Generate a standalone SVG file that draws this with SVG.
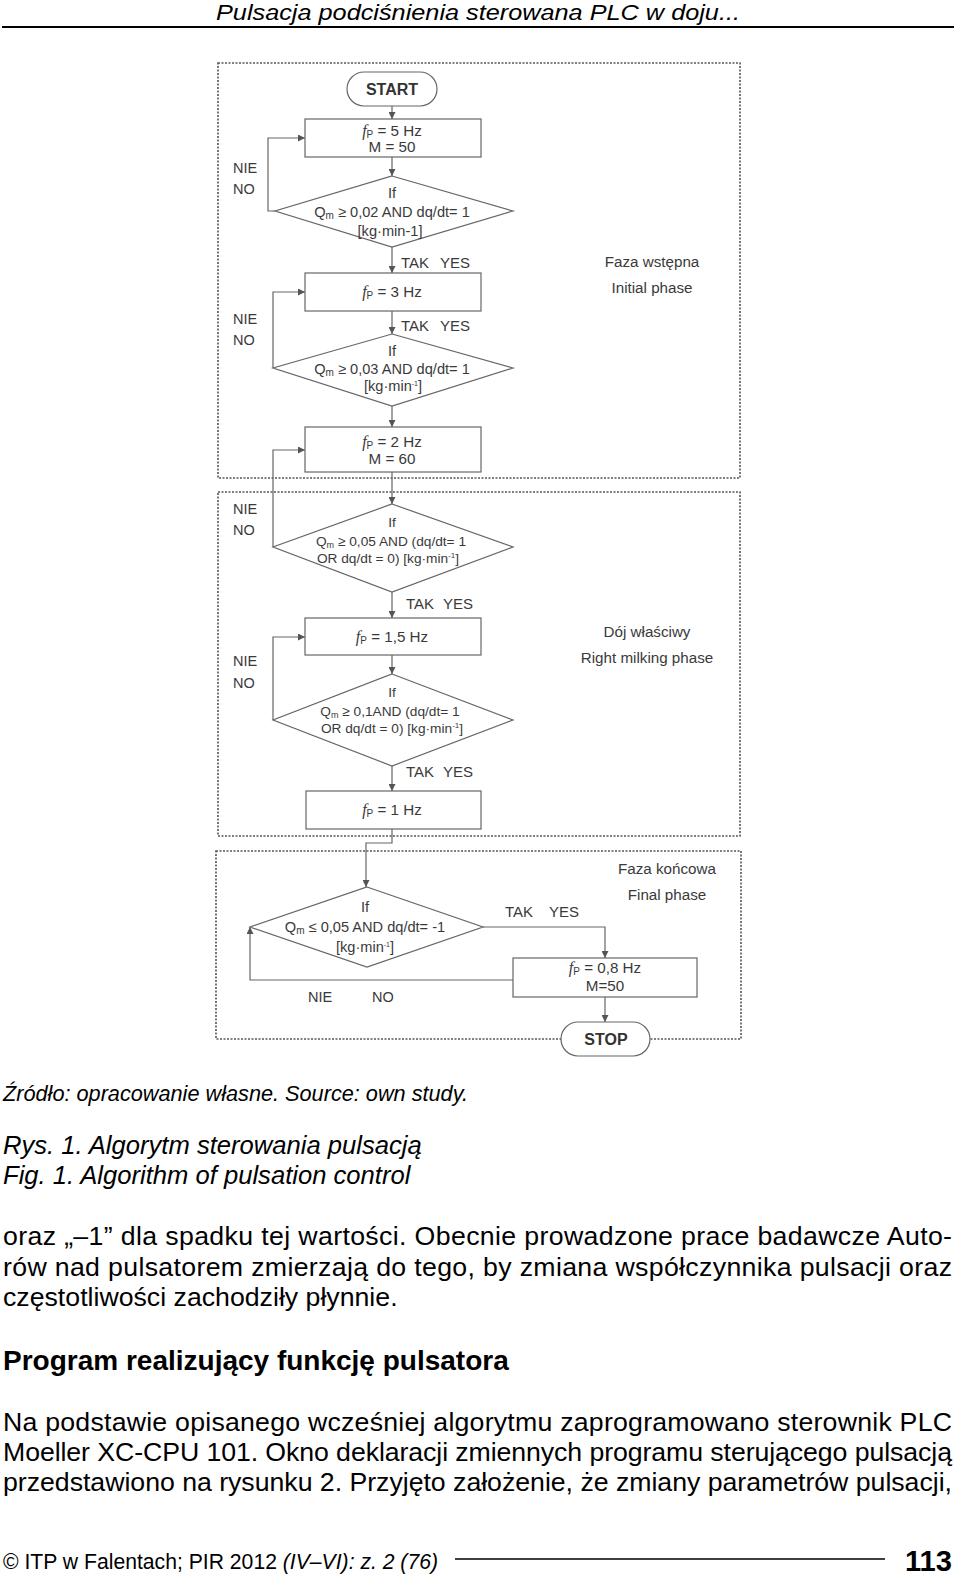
<svg xmlns="http://www.w3.org/2000/svg" width="960" height="1577" viewBox="0 0 960 1577">
<style>
.fl{fill:none;stroke:#666;stroke-width:1.2}
.nd{fill:#fff;stroke:#666;stroke-width:1.2}
.ph{fill:none;stroke:#555;stroke-width:1.6;stroke-dasharray:2 1.5}
.t{font-family:"Liberation Sans",Arial,sans-serif;fill:#3a3a3a;font-size:14.5px}
.y{font-family:"Liberation Sans",Arial,sans-serif;fill:#3a3a3a;font-size:15px}
.d{font-family:"Liberation Sans",Arial,sans-serif;fill:#3a3a3a;font-size:14.6px;text-anchor:middle}
.e{font-family:"Liberation Sans",Arial,sans-serif;fill:#3a3a3a;font-size:13.7px;text-anchor:middle}
.b{font-family:"Liberation Sans",Arial,sans-serif;fill:#3a3a3a;font-size:15.2px;text-anchor:middle}
.s{font-family:"Liberation Sans",Arial,sans-serif;fill:#333;font-size:16px;font-weight:bold;text-anchor:middle}
.f{font-style:italic;font-family:"Liberation Serif","Times New Roman",serif}
.x{font-family:"Liberation Sans",Arial,sans-serif;fill:#000}
</style>
<defs>
<marker id="ar" viewBox="0 0 10 10" refX="10" refY="5" markerWidth="7" markerHeight="7" orient="auto" markerUnits="userSpaceOnUse">
<path d="M0,0 L10,5 L0,10 z" fill="#555"/>
</marker>
</defs>
<rect width="960" height="1577" fill="#fff"/>

<!-- header -->
<text class="x" x="478" y="20" font-size="22" font-style="italic" text-anchor="middle" textLength="524" lengthAdjust="spacingAndGlyphs">Pulsacja podciśnienia sterowana PLC w doju...</text>
<line x1="2" y1="27" x2="954" y2="27" stroke="#000" stroke-width="2"/>

<!-- phase frames -->
<g id="phases">
<rect class="ph" x="218" y="63" width="522" height="415"/>
<rect class="ph" x="218" y="492" width="522" height="344"/>
<rect class="ph" x="216" y="851" width="525" height="188"/>
<text class="b" x="652" y="267">Faza wstępna</text>
<text class="b" x="652" y="293">Initial phase</text>
<text class="b" x="647" y="637">Dój właściwy</text>
<text class="b" x="647" y="663">Right milking phase</text>
<text class="b" x="667" y="874">Faza końcowa</text>
<text class="b" x="667" y="900">Final phase</text>
</g>

<!-- connectors -->
<g id="connectors">
<path class="fl" d="M392,106 V119" marker-end="url(#ar)"/>
<path class="fl" d="M392,157 V176" marker-end="url(#ar)"/>
<path class="fl" d="M275,211 H268 V138 H305" marker-end="url(#ar)"/>
<path class="fl" d="M392,247 V273" marker-end="url(#ar)"/>
<path class="fl" d="M392,311 V334" marker-end="url(#ar)"/>
<path class="fl" d="M273,368 V292 H305" marker-end="url(#ar)"/>
<path class="fl" d="M392,406 V427" marker-end="url(#ar)"/>
<path class="fl" d="M392,472 V504" marker-end="url(#ar)"/>
<path class="fl" d="M273,547 V450 H305" marker-end="url(#ar)"/>
<path class="fl" d="M392,592 V618" marker-end="url(#ar)"/>
<path class="fl" d="M392,655 V674" marker-end="url(#ar)"/>
<path class="fl" d="M273,720 V637 H305" marker-end="url(#ar)"/>
<path class="fl" d="M392,766 V791" marker-end="url(#ar)"/>
<path class="fl" d="M392,829 V843 H366 V887" marker-end="url(#ar)"/>
<path class="fl" d="M483,927 H605 V958" marker-end="url(#ar)"/>
<path class="fl" d="M513,980 H250 V927" marker-end="url(#ar)"/>
<path class="fl" d="M605,997 V1022" marker-end="url(#ar)"/>
<text class="t" x="233" y="173">NIE</text>
<text class="t" x="233" y="194">NO</text>
<text class="y" x="401" y="268">TAK</text><text class="y" x="440" y="268">YES</text>
<text class="t" x="233" y="324">NIE</text>
<text class="t" x="233" y="345">NO</text>
<text class="y" x="401" y="331">TAK</text><text class="y" x="440" y="331">YES</text>
<text class="t" x="233" y="514">NIE</text>
<text class="t" x="233" y="535">NO</text>
<text class="y" x="406" y="609">TAK</text><text class="y" x="443" y="609">YES</text>
<text class="t" x="233" y="666">NIE</text>
<text class="t" x="233" y="688">NO</text>
<text class="y" x="406" y="777">TAK</text><text class="y" x="443" y="777">YES</text>
<text class="t" x="308" y="1002">NIE</text>
<text class="t" x="372" y="1002">NO</text>
<text class="y" x="505" y="917">TAK</text><text class="y" x="549" y="917">YES</text>
</g>

<!-- nodes -->
<g id="start">
<rect class="nd" x="347" y="72" width="90" height="34" rx="17"/>
<text class="s" x="392" y="95">START</text>
</g>
<g id="box1">
<rect class="nd" x="305" y="119" width="176" height="38"/>
<text class="b" x="392" y="136"><tspan class="f" font-size="16">f</tspan><tspan font-size="10" dy="2">P</tspan><tspan dy="-2"> = 5 Hz</tspan></text>
<text class="b" x="392" y="152">M = 50</text>
</g>
<g id="if1">
<polygon class="nd" points="392,176 513,211 392,247 275,211"/>
<text class="d" x="392" y="198">If</text>
<text class="d" x="392" y="217">Q<tspan font-size="10" dy="2">m</tspan><tspan dy="-2"> ≥ 0,02 AND dq/dt= 1</tspan></text>
<text class="d" x="390" y="236" font-size="11.5">[kg·min-1]</text>
</g>
<g id="box2">
<rect class="nd" x="305" y="273" width="176" height="38"/>
<text class="b" x="392" y="297"><tspan class="f" font-size="16">f</tspan><tspan font-size="10" dy="2">P</tspan><tspan dy="-2"> = 3 Hz</tspan></text>
</g>
<g id="if2">
<polygon class="nd" points="392,334 513,368 392,406 273,368"/>
<text class="d" x="392" y="356">If</text>
<text class="d" x="392" y="374">Q<tspan font-size="10" dy="2">m</tspan><tspan dy="-2"> ≥ 0,03 AND dq/dt= 1</tspan></text>
<text class="d" x="393" y="391" font-size="11.5">[kg·min<tspan font-size="7" dy="-5">-1</tspan><tspan dy="5">]</tspan></text>
</g>
<g id="box3">
<rect class="nd" x="305" y="427" width="176" height="45"/>
<text class="b" x="392" y="447"><tspan class="f" font-size="16">f</tspan><tspan font-size="10" dy="2">P</tspan><tspan dy="-2"> = 2 Hz</tspan></text>
<text class="b" x="392" y="464">M = 60</text>
</g>
<g id="if3">
<polygon class="nd" points="392,504 513,547 392,592 273,547"/>
<text class="e" x="392" y="527">If</text>
<text class="e" x="391" y="546">Q<tspan font-size="9" dy="2">m</tspan><tspan dy="-2"> ≥ 0,05 AND (dq/dt= 1</tspan></text>
<text class="e" x="388" y="563">OR dq/dt = 0) [kg·min<tspan font-size="8" dy="-5">-1</tspan><tspan dy="5">]</tspan></text>
</g>
<g id="box4">
<rect class="nd" x="305" y="618" width="176" height="37"/>
<text class="b" x="392" y="642"><tspan class="f" font-size="16">f</tspan><tspan font-size="10" dy="2">P</tspan><tspan dy="-2"> = 1,5 Hz</tspan></text>
</g>
<g id="if4">
<polygon class="nd" points="392,674 513,720 392,766 273,720"/>
<text class="e" x="392" y="697">If</text>
<text class="e" x="390" y="716">Q<tspan font-size="9" dy="2">m</tspan><tspan dy="-2"> ≥ 0,1AND (dq/dt= 1</tspan></text>
<text class="e" x="392" y="733">OR dq/dt = 0) [kg·min<tspan font-size="8" dy="-5">-1</tspan><tspan dy="5">]</tspan></text>
</g>
<g id="box5">
<rect class="nd" x="306" y="791" width="175" height="38"/>
<text class="b" x="392" y="815"><tspan class="f" font-size="16">f</tspan><tspan font-size="10" dy="2">P</tspan><tspan dy="-2"> = 1 Hz</tspan></text>
</g>
<g id="if5">
<polygon class="nd" points="367,887 483,927 367,967 250,927"/>
<text class="d" x="365" y="912">If</text>
<text class="d" x="365" y="932">Q<tspan font-size="10" dy="2">m</tspan><tspan dy="-2"> ≤ 0,05 AND dq/dt= -1</tspan></text>
<text class="d" x="365" y="952" font-size="11.5">[kg·min<tspan font-size="7" dy="-5">-1</tspan><tspan dy="5">]</tspan></text>
</g>
<g id="box6">
<rect class="nd" x="513" y="958" width="184" height="39"/>
<text class="b" x="605" y="973"><tspan class="f" font-size="16">f</tspan><tspan font-size="10" dy="2">P</tspan><tspan dy="-2"> = 0,8 Hz</tspan></text>
<text class="b" x="605" y="991">M=50</text>
</g>
<g id="stop">
<rect class="nd" x="561" y="1022" width="89" height="34" rx="17"/>
<text class="s" x="606" y="1045">STOP</text>
</g>

<!-- captions and body -->
<text class="x" x="3" y="1101" font-size="21.7" font-style="italic">Źródło: opracowanie własne. Source: own study.</text>
<text class="x" x="3" y="1154" font-size="25.6" font-style="italic">Rys. 1. Algorytm sterowania pulsacją</text>
<text class="x" x="3" y="1184" font-size="25.6" font-style="italic">Fig. 1. Algorithm of pulsation control</text>
<text class="x" x="3" y="1245" font-size="26.7" textLength="949" lengthAdjust="spacing">oraz „–1” dla spadku tej wartości. Obecnie prowadzone prace badawcze Auto-</text>
<text class="x" x="3" y="1276" font-size="26.7" textLength="949" lengthAdjust="spacing">rów nad pulsatorem zmierzają do tego, by zmiana współczynnika pulsacji oraz</text>
<text class="x" x="3" y="1306" font-size="26.7">częstotliwości zachodziły płynnie.</text>
<text class="x" x="3" y="1370" font-size="28" font-weight="bold">Program realizujący funkcję pulsatora</text>
<text class="x" x="3" y="1431" font-size="26.7" textLength="949" lengthAdjust="spacing">Na podstawie opisanego wcześniej algorytmu zaprogramowano sterownik PLC</text>
<text class="x" x="3" y="1461" font-size="26.7" textLength="949" lengthAdjust="spacing">Moeller XC-CPU 101. Okno deklaracji zmiennych programu sterującego pulsacją</text>
<text class="x" x="3" y="1491" font-size="26.7" textLength="949" lengthAdjust="spacing">przedstawiono na rysunku 2. Przyjęto założenie, że zmiany parametrów pulsacji,</text>

<!-- footer -->
<text class="x" x="3" y="1569" font-size="22" textLength="435" lengthAdjust="spacingAndGlyphs">© ITP w Falentach; PIR 2012 <tspan font-style="italic">(IV–VI): z. 2 (76)</tspan></text>
<line x1="455" y1="1559" x2="885" y2="1559" stroke="#000" stroke-width="1.5"/>
<text class="x" x="952" y="1571" font-size="30" font-weight="bold" text-anchor="end" textLength="47" lengthAdjust="spacingAndGlyphs">113</text>
</svg>
